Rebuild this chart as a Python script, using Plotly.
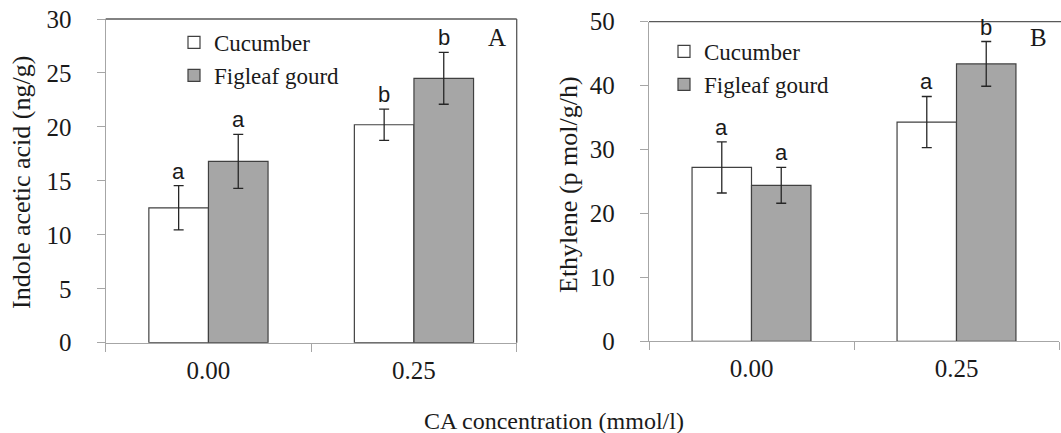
import plotly.graph_objects as go

# ---------------- data ----------------
categories = ["0.00", "0.25"]
series_names = ["Cucumber", "Figleaf gourd"]

iaa_cucumber = [12.5, 20.2]
iaa_cucumber_err = [2.05, 1.45]
iaa_figleaf = [16.8, 24.5]
iaa_figleaf_err = [2.5, 2.4]
iaa_letters_cucumber = ["a", "b"]
iaa_letters_figleaf = ["a", "b"]

eth_cucumber = [27.2, 34.3]
eth_cucumber_err = [4.0, 4.0]
eth_figleaf = [24.4, 43.4]
eth_figleaf_err = [2.8, 3.5]
eth_letters_cucumber = ["a", "a"]
eth_letters_figleaf = ["a", "b"]

y_ticks_A = [0, 5, 10, 15, 20, 25, 30]
y_ticks_B = [0, 10, 20, 30, 40, 50]

# ---------------- style ----------------
W, H = 1061, 433
OFF = 0  # page body margin is removed below
SERIF = "Liberation Serif"
SANS = "Liberation Sans"
TXT = "#1a1a1a"
AXIS_GRAY = "#a6a6a6"
BOX_DARK = "#595959"
BAR_EDGE = "#404040"
FILL_GRAY = "#a6a6a6"
ERR_COL = "#262626"

def px_x(p):
    return (p - OFF) / W

def px_y(p):
    return 1 - (p - OFF) / H

fig = go.Figure()

panels = [
    dict(xa="x", ya="y", legend="legend",
         c=iaa_cucumber, ce=iaa_cucumber_err, f=iaa_figleaf, fe=iaa_figleaf_err,
         lc=iaa_letters_cucumber, lf=iaa_letters_figleaf),
    dict(xa="x2", ya="y2", legend="legend2",
         c=eth_cucumber, ce=eth_cucumber_err, f=eth_figleaf, fe=eth_figleaf_err,
         lc=eth_letters_cucumber, lf=eth_letters_figleaf),
]

for p in panels:
    fig.add_trace(go.Bar(
        x=categories, y=p["c"], name=series_names[0],
        marker=dict(color="white", line=dict(color=BAR_EDGE, width=1.2)),
        error_y=dict(type="data", array=p["ce"], visible=True,
                     color=ERR_COL, thickness=1.3, width=5),
        xaxis=p["xa"], yaxis=p["ya"], legend=p["legend"], offsetgroup="c",
    ))
    fig.add_trace(go.Bar(
        x=categories, y=p["f"], name=series_names[1],
        marker=dict(color=FILL_GRAY, line=dict(color=BAR_EDGE, width=1.2)),
        error_y=dict(type="data", array=p["fe"], visible=True,
                     color=ERR_COL, thickness=1.3, width=5),
        xaxis=p["xa"], yaxis=p["ya"], legend=p["legend"], offsetgroup="f",
    ))

BARGAP = 0.42
half = (1 - BARGAP) / 4  # center offset of each bar in a group of two

annotations = []
for p in panels:
    for i in range(len(categories)):
        for vals, errs, letters, sign in ((p["c"], p["ce"], p["lc"], -1),
                                          (p["f"], p["fe"], p["lf"], 1)):
            annotations.append(dict(
                x=i + sign * half, y=vals[i] + errs[i],
                xref=p["xa"], yref=p["ya"], text=letters[i],
                showarrow=False, yanchor="bottom", yshift=0,
                font=dict(family=SANS, size=22, color=TXT)))

# panel letters
annotations.append(dict(x=px_x(497), y=px_y(38), xref="paper", yref="paper",
                        text="A", showarrow=False, xanchor="center", yanchor="middle",
                        font=dict(family=SERIF, size=25, color=TXT)))
annotations.append(dict(x=px_x(1038), y=px_y(38), xref="paper", yref="paper",
                        text="B", showarrow=False, xanchor="center", yanchor="middle",
                        font=dict(family=SERIF, size=25, color=TXT)))
# axis titles
annotations.append(dict(x=px_x(22), y=px_y(183), xref="paper", yref="paper",
                        text="Indole acetic acid (ng/g)", textangle=-90, showarrow=False,
                        xanchor="center", yanchor="middle",
                        font=dict(family=SERIF, size=26, color=TXT)))
annotations.append(dict(x=px_x(568), y=px_y(185), xref="paper", yref="paper",
                        text="Ethylene (p mol/g/h)", textangle=-90, showarrow=False,
                        xanchor="center", yanchor="middle",
                        font=dict(family=SERIF, size=26, color=TXT)))
annotations.append(dict(x=px_x(554), y=px_y(421), xref="paper", yref="paper",
                        text="CA concentration (mmol/l)", showarrow=False,
                        xanchor="center", yanchor="middle",
                        font=dict(family=SERIF, size=24, color=TXT)))

xA = [px_x(105.7), px_x(516.7)]
yA = [px_y(342.7), px_y(19)]
xB = [px_x(649), px_x(1059)]
yB = [px_y(341.3), px_y(21.7)]

tick_font = dict(family=SERIF, size=25, color=TXT)

common_x = dict(type="category", showline=True, linecolor=AXIS_GRAY, linewidth=1.3,
                ticks="outside", ticklen=8, tickcolor=AXIS_GRAY, tickwidth=1.3,
                tickson="boundaries", showgrid=False, zeroline=False, automargin=False,
                ticklabelstandoff=5, ticklabeloverflow="allow", tickfont=tick_font)
common_y = dict(showline=True, linecolor=AXIS_GRAY, linewidth=1.3,
                ticks="outside", ticklen=8, tickcolor=AXIS_GRAY, tickwidth=1.3,
                showgrid=False, zeroline=False, automargin=False, ticklabelstandoff=20,
                ticklabeloverflow="allow", tickfont=tick_font)

fig.update_layout(
    width=W, height=H,
    margin=dict(l=0, r=0, t=0, b=0, pad=0, autoexpand=False),
    paper_bgcolor="white", plot_bgcolor="white",
    font=dict(family=SERIF, color=TXT),
    barmode="group", bargap=BARGAP, bargroupgap=0,
    xaxis=dict(domain=xA, anchor="y", range=[-0.5, 1.5], **common_x),
    yaxis=dict(domain=yA, anchor="x", range=[0, 30], tickvals=y_ticks_A, **common_y),
    xaxis2=dict(domain=xB, anchor="y2", range=[-0.5, 1.5], **common_x),
    yaxis2=dict(domain=yB, anchor="x2", range=[0, 50], tickvals=y_ticks_B, **common_y),
    legend=dict(x=px_x(174), y=px_y(21), xanchor="left", yanchor="top",
                bgcolor="rgba(0,0,0,0)", borderwidth=0, itemclick=False,
                font=dict(family=SERIF, size=23, color=TXT), tracegroupgap=0),
    legend2=dict(x=px_x(664), y=px_y(30), xanchor="left", yanchor="top",
                 bgcolor="rgba(0,0,0,0)", borderwidth=0, itemclick=False,
                 font=dict(family=SERIF, size=23, color=TXT), tracegroupgap=0),
    annotations=annotations,
    shapes=[
        dict(type="line", xref="x domain", yref="y domain", x0=0, x1=1, y0=1, y1=1,
             line=dict(color=BOX_DARK, width=1.3)),
        dict(type="line", xref="x domain", yref="y domain", x0=1, x1=1, y0=0, y1=1,
             line=dict(color=BOX_DARK, width=1.3)),
        dict(type="line", xref="x2 domain", yref="y2 domain", x0=0, x1=1.03, y0=1, y1=1,
             line=dict(color=BOX_DARK, width=1.3)),
    ],
    showlegend=True,
)

fig.write_html("out.html", config={"displayModeBar": False},
               post_script="document.body.style.margin='0';")
